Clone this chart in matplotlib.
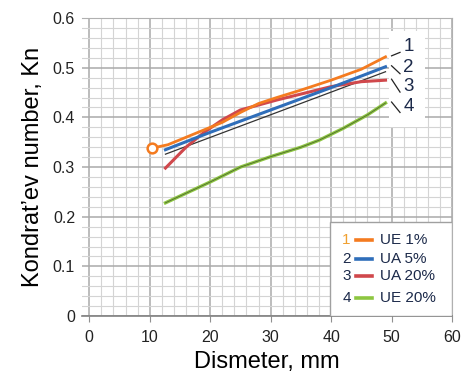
import matplotlib
matplotlib.use("Agg")
import matplotlib.pyplot as plt
from matplotlib.patches import Rectangle
from matplotlib.lines import Line2D
import numpy as np

plt.rcParams['font.family'] = ['Liberation Sans', 'DejaVu Sans']

# ---- data ----
x1 = [10.3, 13, 16, 19, 22, 25, 28, 31, 35, 40, 45, 49]
y1 = [0.338, 0.345, 0.360, 0.375, 0.390, 0.410, 0.428, 0.440, 0.455, 0.475, 0.497, 0.522]
x2 = [12.6, 20, 30, 40, 49]
y2 = [0.335, 0.370, 0.415, 0.460, 0.502]
x3 = [12.6, 16, 19, 22, 25, 28, 31, 35, 40, 45, 49]
y3 = [0.298, 0.340, 0.370, 0.395, 0.415, 0.425, 0.435, 0.447, 0.462, 0.472, 0.475]
x4 = [12.6, 20, 25, 30, 35, 38, 42, 46, 49]
y4 = [0.228, 0.270, 0.300, 0.321, 0.340, 0.354, 0.378, 0.405, 0.429]
xk = [12.6, 49]
yk = [0.326, 0.492]

labels = ["UE 1%", "UA 5%", "UA 20%", "UE 20%"]
numbers = ["1", "2", "3", "4"]
colors = ["#F47B20", "#2F6EBA", "#D0484C", "#8DC641"]
xticks = [0, 10, 20, 30, 40, 50, 60]
yticks = [0, 0.1, 0.2, 0.3, 0.4, 0.5, 0.6]
yticklabels = ["0", "0.1", "0.2", "0.3", "0.4", "0.5", "0.6"]

fig = plt.figure(figsize=(4.66, 3.85), dpi=100)
ax = fig.add_axes([0.176, 0.179, 0.794, 0.774])
ax.set_xlim(-1.2, 60)
ax.set_ylim(0, 0.6)

# grid
ax.set_xticks(np.arange(0, 61, 2), minor=True)
ax.set_yticks(np.arange(0, 0.601, 0.02), minor=True)
ax.set_xticks(xticks)
ax.set_yticks(yticks)
ax.set_yticklabels(yticklabels)
ax.grid(which='minor', color='#d4d4d4', linewidth=0.8)
ax.grid(which='major', color='#aaaaaa', linewidth=1.1)
ax.set_axisbelow(True)

for s in ['top', 'right']:
    ax.spines[s].set_color('#b0b0b0')
ax.spines['left'].set_visible(False)
ax.spines['bottom'].set_color('#808080')
ax.spines['bottom'].set_linewidth(1.2)

ax.tick_params(axis='x', which='major', length=4, color='#909090', pad=6,
               labelsize=11.5, labelcolor='#222222')
ax.tick_params(axis='y', which='major', length=0, pad=5,
               labelsize=11.5, labelcolor='#222222')
ax.tick_params(which='minor', length=0)

# series
ax.plot(xk, yk, color='#333333', lw=0.9, zorder=3)
ax.plot(x4, y4, color=colors[3], lw=2.4, zorder=3)
ax.plot(x4, y4, color='#2a2a2a', lw=0.6, zorder=3, alpha=0.6)
ax.plot(x3, y3, color=colors[2], lw=2.2, zorder=4)
ax.plot(x2, y2, color=colors[1], lw=2.2, zorder=5)
ax.plot(x1, y1, color=colors[0], lw=2.0, zorder=6)
ax.plot(x1[:1], y1[:1], 'o', mfc='white', mec=colors[0], mew=1.8, ms=7, zorder=7)

# white box behind end labels
ax.add_patch(Rectangle((49.5, 0.38), 6.0, 0.195, facecolor='white',
                       edgecolor='none', zorder=2.5))
ends_y = [y1[-1], y2[-1], y3[-1], y4[-1]]
lab_y = [0.543, 0.500, 0.463, 0.422]
for i in range(4):
    ax.plot([x1[-1] + 1.0, x1[-1] + 2.4], [ends_y[i] + 0.002, lab_y[i] - 0.012],
            color='#222222', lw=0.9, zorder=6)
    ax.text(52.8, lab_y[i], numbers[i], fontsize=13.5, color='#1c2a4a',
            ha='center', va='center', zorder=7)

# legend box (manual)
ax.add_patch(Rectangle((0.67, 0.0), 0.33, 0.315, transform=ax.transAxes,
                       facecolor='white', edgecolor='#a0a0a0', lw=1.0, zorder=8))
leg_y = [0.255, 0.19, 0.135, 0.06]
for i in range(4):
    yy = leg_y[i]
    ax.text(0.715, yy, numbers[i], transform=ax.transAxes, fontsize=11,
            color=('#F0A030' if i == 0 else '#1c2a4a'), ha='center', va='center', zorder=9)
    ax.add_line(Line2D([0.74, 0.785], [yy, yy], transform=ax.transAxes,
                       color=colors[i], lw=2.6, zorder=9))
    ax.text(0.805, yy, labels[i], transform=ax.transAxes, fontsize=11,
            color='#1c2a4a', ha='left', va='center', zorder=9)

ax.set_xlabel("Dismeter, mm", fontsize=17, labelpad=4)
ax.set_ylabel("Kondrat\u2019ev number, Kn", fontsize=17, labelpad=6)

fig.savefig("out.png", dpi=100)
